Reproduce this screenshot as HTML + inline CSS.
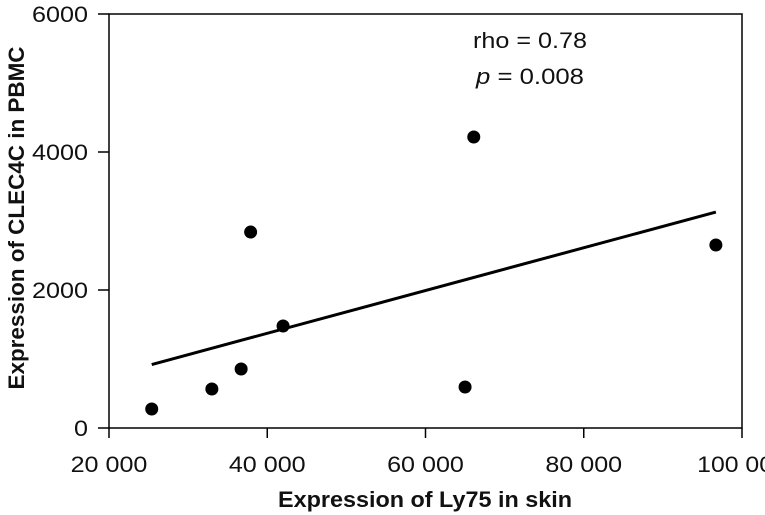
<!DOCTYPE html>
<html><head><meta charset="utf-8"><style>
html,body{margin:0;padding:0;background:#fff;}
svg{display:block;font-family:"Liberation Sans",sans-serif;}
</style></head><body>
<svg id="chart" width="765" height="515" viewBox="0 0 765 515"></svg>
<script>
const xVals=[25400,33000,36700,37900,42000,65000,66100,96700];
const yVals=[275,565,855,2840,1478,594,4217,2652];
const xTicks=[20000,40000,60000,80000,100000];
const xTickLabels=["20 000","40 000","60 000","80 000","100 000"];
const yTicks=[0,2000,4000,6000];
const yTickLabels=["0","2000","4000","6000"];
const fitX=[25400,96700];
const fitY=[920,3130];

const NS="http://www.w3.org/2000/svg";
const svg=document.getElementById('chart');
const X0=109,X1=742,Y0=428,Y1=14;
function sx(v){return X0+(v-20000)/(100000-20000)*(X1-X0);}
function sy(v){return Y0-(v/6000)*(Y0-Y1);}
function mk(tag,attrs,parent){const e=document.createElementNS(NS,tag);for(const k in attrs)e.setAttribute(k,attrs[k]);(parent||svg).appendChild(e);return e;}

const frame=mk('rect',{x:X0,y:Y1,width:X1-X0,height:Y0-Y1,fill:'none',stroke:'#000','stroke-width':1.5});



xTicks.forEach((t,i)=>{
  const l=mk('line',{x1:sx(t),x2:sx(t),y1:Y0,y2:Y0+10,stroke:'#000','stroke-width':1.5});
  
  
  const lab=xTickLabels[i];
  const tx=mk('text',{x:sx(t),y:Y0+44,'text-anchor':'middle','font-size':22,fill:'#111',textLength:lab.length*12.8,lengthAdjust:'spacingAndGlyphs'});
  tx.textContent=lab;
  
  
});
yTicks.forEach((t,i)=>{
  const l=mk('line',{x1:X0-11,x2:X0,y1:sy(t),y2:sy(t),stroke:'#000','stroke-width':1.5});
  
  
  const lab=yTickLabels[i];
  const tx=mk('text',{x:X0-21,y:sy(t)+8,'text-anchor':'end','font-size':22,fill:'#111',textLength:lab.length*14,lengthAdjust:'spacingAndGlyphs'});
  tx.textContent=lab;
  
  
});

const fit=mk('line',{x1:sx(fitX[0]),y1:sy(fitY[0]),x2:sx(fitX[1]),y2:sy(fitY[1]),stroke:'#000','stroke-width':3});



xVals.forEach((v,i)=>{
  const c=mk('circle',{cx:sx(v),cy:sy(yVals[i]),r:6.5,fill:'#000'});
  
  
});
</script>
<svg width="765" height="515" style="position:absolute;left:0;top:0;font-family:'Liberation Sans',sans-serif;">
<text x="530" y="48" text-anchor="middle" font-size="22" fill="#111" textLength="114" lengthAdjust="spacingAndGlyphs">rho = 0.78</text>
<text x="530" y="84" text-anchor="middle" font-size="22" fill="#111" textLength="108" lengthAdjust="spacingAndGlyphs"><tspan font-style="italic">p</tspan> = 0.008</text>
<text x="425" y="507" text-anchor="middle" font-size="22" font-weight="bold" fill="#111" textLength="294" lengthAdjust="spacingAndGlyphs">Expression of Ly75 in skin</text>
<text transform="translate(24,218) rotate(-90)" text-anchor="middle" font-size="22" font-weight="bold" fill="#111" textLength="343" lengthAdjust="spacingAndGlyphs">Expression of CLEC4C in PBMC</text>
</svg>
</body></html>
